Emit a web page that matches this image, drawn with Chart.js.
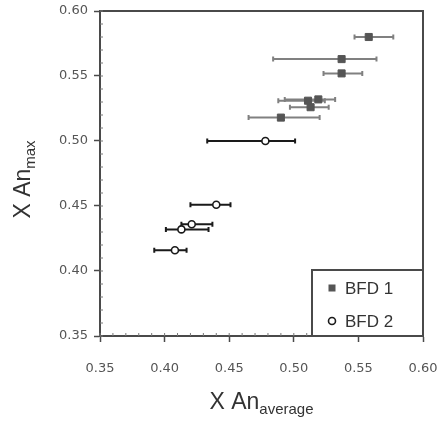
<!DOCTYPE html>
<html>
<head>
<meta charset="utf-8">
<script src="https://cdn.jsdelivr.net/npm/chart.js@4"></script>
<style>
html,body{margin:0;padding:0;background:#fff;}
#wrap{width:443px;height:424px;position:relative;}
</style>
</head>
<body>
<div id="wrap"><canvas id="c" width="443" height="424"></canvas></div>
<script>
// ---- data ----
const bfd1X    = [0.558, 0.537, 0.537, 0.511, 0.519, 0.513, 0.490];
const bfd1Y    = [0.580, 0.563, 0.552, 0.531, 0.532, 0.526, 0.518];
const bfd1XMin = [0.547, 0.484, 0.523, 0.488, 0.493, 0.497, 0.465];
const bfd1XMax = [0.577, 0.564, 0.553, 0.524, 0.532, 0.527, 0.520];

const bfd2X    = [0.478, 0.440, 0.421, 0.413, 0.408];
const bfd2Y    = [0.500, 0.451, 0.436, 0.432, 0.416];
const bfd2XMin = [0.433, 0.420, 0.413, 0.401, 0.392];
const bfd2XMax = [0.501, 0.451, 0.437, 0.434, 0.417];

const seriesLabels = ['BFD 1', 'BFD 2'];
const axisMin = 0.35, axisMax = 0.60, axisStep = 0.05, minorStep = 0.01;

const AXIS_COLOR = '#4a4a4a';
const TICK_FONT = {family: 'DejaVu Sans', size: 13};

function pts(xs, ys, lo, hi){ return xs.map((x,i)=>({x:x, y:ys[i], xMin:lo[i], xMax:hi[i]})); }

const errorBarPlugin = {
  id: 'errorBars',
  beforeDatasetsDraw(chart){
    const ctx = chart.ctx, xs = chart.scales.x, ys = chart.scales.y;
    chart.data.datasets.forEach(ds => {
      ctx.save();
      ctx.strokeStyle = ds.errorColor;
      ctx.lineWidth = 2;
      ds.data.forEach(p => {
        const y = ys.getPixelForValue(p.y);
        const x0 = xs.getPixelForValue(p.xMin), x1 = xs.getPixelForValue(p.xMax);
        ctx.beginPath();
        ctx.moveTo(x0, y); ctx.lineTo(x1, y);
        ctx.moveTo(x0, y-2.5); ctx.lineTo(x0, y+2.5);
        ctx.moveTo(x1, y-2.5); ctx.lineTo(x1, y+2.5);
        ctx.stroke();
      });
      ctx.restore();
    });
  }
};

function drawComposite(ctx, parts, cx, cy){
  let total = 0;
  parts.forEach(p => { ctx.font = p.size + 'px "Liberation Sans", Arial, sans-serif'; p.w = ctx.measureText(p.t).width; total += p.w; });
  let x = cx - total/2;
  ctx.textBaseline = 'alphabetic';
  ctx.textAlign = 'left';
  parts.forEach(p => {
    ctx.font = p.size + 'px "Liberation Sans", Arial, sans-serif';
    ctx.fillText(p.t, x, cy + p.dy);
    x += p.w;
  });
}

const framePlugin = {
  id: 'frame',
  afterDraw(chart){
    const ctx = chart.ctx, a = chart.chartArea, xs = chart.scales.x, ys = chart.scales.y;
    ctx.save();
    ctx.strokeStyle = AXIS_COLOR;
    ctx.lineWidth = 2;
    ctx.strokeRect(a.left, a.top, a.right - a.left, a.bottom - a.top);
    ctx.lineWidth = 1;
    ctx.strokeStyle = '#777';
    ctx.beginPath();
    for (let v = axisMin; v <= axisMax + 1e-9; v += minorStep) {
      const px = xs.getPixelForValue(v);
      ctx.moveTo(px, a.bottom); ctx.lineTo(px, a.bottom - 3);
      const py = ys.getPixelForValue(v);
      ctx.moveTo(a.left, py); ctx.lineTo(a.left + 3, py);
    }
    ctx.stroke();
    ctx.fillStyle = '#333';
    drawComposite(ctx, [
      {t:'X', size:23, dy:0},
      {t:' An', size:23, dy:0},
      {t:'average', size:15, dy:5}
    ], (a.left + a.right)/2, 409);
    ctx.save();
    ctx.translate(30, (a.top + a.bottom)/2 + 6);
    ctx.rotate(-Math.PI/2);
    drawComposite(ctx, [
      {t:'X', size:23, dy:0},
      {t:' An', size:23, dy:0},
      {t:'max', size:15, dy:5}
    ], 0, 0);
    ctx.restore();
    const bx0 = a.right - 111, by0 = a.bottom - 66;
    ctx.fillStyle = '#fff';
    ctx.fillRect(bx0, by0, a.right - bx0, a.bottom - by0);
    ctx.strokeStyle = AXIS_COLOR;
    ctx.lineWidth = 2;
    ctx.strokeRect(bx0, by0, a.right - bx0, a.bottom - by0);
    const ds = chart.data.datasets;
    const rows = [by0 + 18, by0 + 51];
    ds.forEach((d, i) => {
      const mx = bx0 + 20, my = rows[i];
      if (d.pointStyle === 'rect') {
        ctx.fillStyle = d.backgroundColor;
        ctx.fillRect(mx - 3.5, my - 3.5, 7, 7);
      } else {
        ctx.beginPath();
        ctx.arc(mx, my, 3.5, 0, Math.PI*2);
        ctx.fillStyle = '#fff'; ctx.fill();
        ctx.lineWidth = 1.6; ctx.strokeStyle = d.borderColor; ctx.stroke();
      }
      ctx.fillStyle = '#333';
      ctx.font = '17px "Liberation Sans", Arial, sans-serif';
      ctx.textBaseline = 'middle';
      ctx.textAlign = 'left';
      ctx.fillText(d.label, bx0 + 33, my + 1);
    });
    ctx.restore();
  }
};

const axisCommon = {
  type: 'linear',
  min: axisMin, max: axisMax,
  ticks: {
    stepSize: axisStep,
    color: '#555',
    font: TICK_FONT,
    callback: v => Number(v).toFixed(2)
  },
  grid: {
    drawOnChartArea: false,
    drawTicks: true,
    tickLength: 6,
    tickColor: AXIS_COLOR,
    tickWidth: 1.5
  },
  border: {color: AXIS_COLOR, width: 2}
};

new Chart(document.getElementById('c'), {
  type: 'scatter',
  data: {
    datasets: [
      {
        label: seriesLabels[0],
        data: pts(bfd1X, bfd1Y, bfd1XMin, bfd1XMax),
        pointStyle: 'rect',
        pointRadius: 5,
        backgroundColor: '#555',
        borderColor: '#555',
        borderWidth: 1,
        errorColor: '#808080'
      },
      {
        label: seriesLabels[1],
        data: pts(bfd2X, bfd2Y, bfd2XMin, bfd2XMax),
        pointStyle: 'circle',
        pointRadius: 3.5,
        backgroundColor: '#fff',
        borderColor: '#1a1a1a',
        borderWidth: 1.6,
        errorColor: '#1a1a1a'
      }
    ]
  },
  options: {
    responsive: false,
    animation: false,
    layout: {padding: {top: 11, right: 20, left: 0, bottom: 0}},
    plugins: {legend: {display: false}, tooltip: {enabled: false}},
    scales: {
      x: Object.assign({}, axisCommon, {
        position: 'bottom',
        ticks: Object.assign({}, axisCommon.ticks, {padding: 19, maxRotation: 0}),
        afterFit(s){ s.height = 88; s.paddingLeft = 0; s.paddingRight = 0; }
      }),
      y: Object.assign({}, axisCommon, {
        position: 'left',
        ticks: Object.assign({}, axisCommon.ticks, {padding: 6}),
        afterFit(s){ s.width = 100; s.paddingTop = 0; s.paddingBottom = 0; }
      })
    }
  },
  plugins: [errorBarPlugin, framePlugin]
});
</script>
</body>
</html>
